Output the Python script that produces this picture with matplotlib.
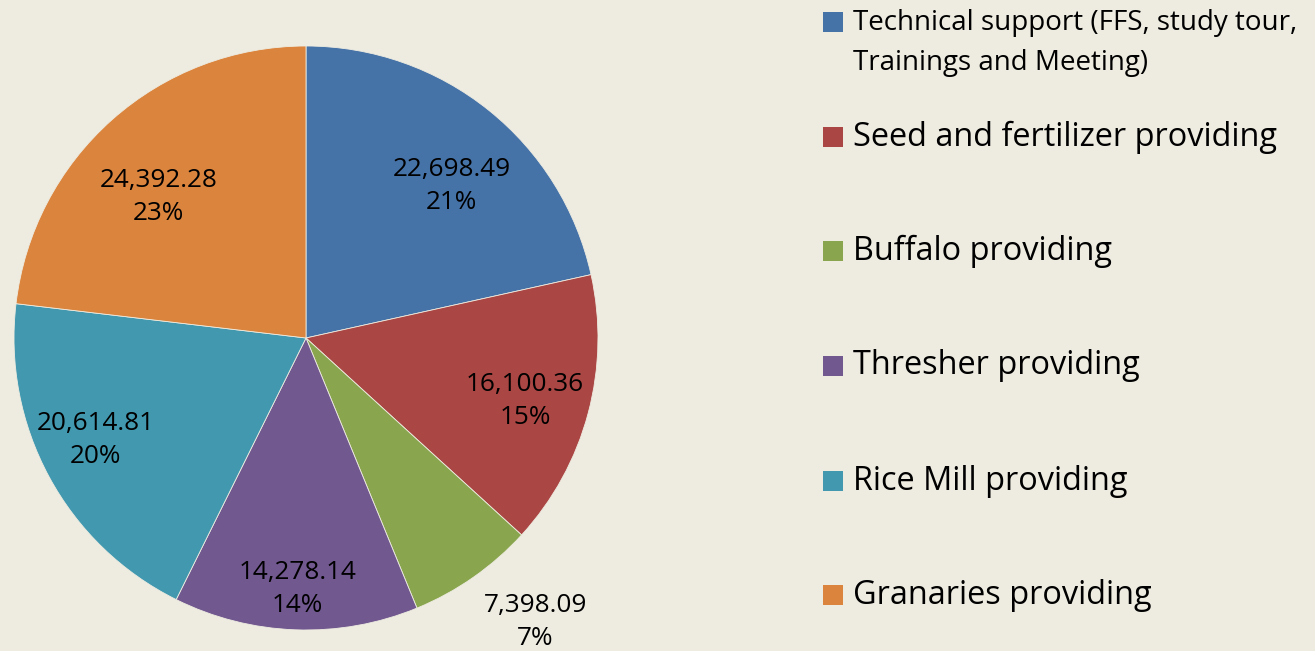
import numpy as np
import matplotlib.pyplot as plt
from matplotlib.patches import Rectangle

labels = ["Technical support (FFS, study tour,\nTrainings and Meeting)",
          "Seed and fertilizer providing",
          "Buffalo providing",
          "Thresher providing",
          "Rice Mill providing",
          "Granaries providing"]
values = [22698.49, 16100.36, 7398.09, 14278.14, 20614.81, 24392.28]
pct_labels = ["21%", "15%", "7%", "14%", "20%", "23%"]
colors = ["#4572A7", "#AA4643", "#89A54E", "#71588F", "#4198AF", "#DB843D"]
# where each data label sits: fraction of radius, angle tweak (deg)
label_r = [0.72, 0.78, 1.25, 0.86, 0.80, 0.70]
label_da = [-5, -1, 4, 0, -2.5, 4.6]

bg = "#EEECE1"
plt.rcParams['font.family'] = ['Open Sans', 'DejaVu Sans']

fig = plt.figure(figsize=(13.15, 6.51), dpi=100, facecolor=bg)
W, H = 1315, 651
ax = fig.add_axes([14 / W, 21 / H, 584 / W, 584 / H])
ax.set_facecolor(bg)

wedges, _ = ax.pie(values, colors=colors, startangle=90, counterclock=False,
                   radius=1, wedgeprops=dict(linewidth=0.6, edgecolor=bg))
ax.set_xlim(-1, 1)
ax.set_ylim(-1, 1)
ax.set_aspect('equal')
ax.axis('off')

for w, v, p, r, da in zip(wedges, values, pct_labels, label_r, label_da):
    mid = np.deg2rad((w.theta1 + w.theta2) / 2 + da)
    x, y = r * np.cos(mid), r * np.sin(mid)
    ax.text(x, y, f"{v:,.2f}\n{p}", ha='center', va='center',
            fontsize=18.8, linespacing=1.42, color='black', clip_on=False)

# legend drawn by hand (first entry uses a smaller font in the original)
ys = [43, 137, 251, 366, 481, 595]
for i, (lab, c, yy) in enumerate(zip(labels, colors, ys)):
    fs = 20 if i == 0 else 23.4
    sq_y = 22 if i == 0 else yy
    fig.add_artist(Rectangle((823 / W, (H - sq_y - 10) / H), 20 / W, 20 / H,
                             transform=fig.transFigure, facecolor=c, edgecolor='none'))
    fig.text(853 / W, 1 - yy / H, lab, ha='left', va='center', fontsize=fs,
             linespacing=1.55, color='black')

fig.savefig("out.png", dpi=100, facecolor=bg)
